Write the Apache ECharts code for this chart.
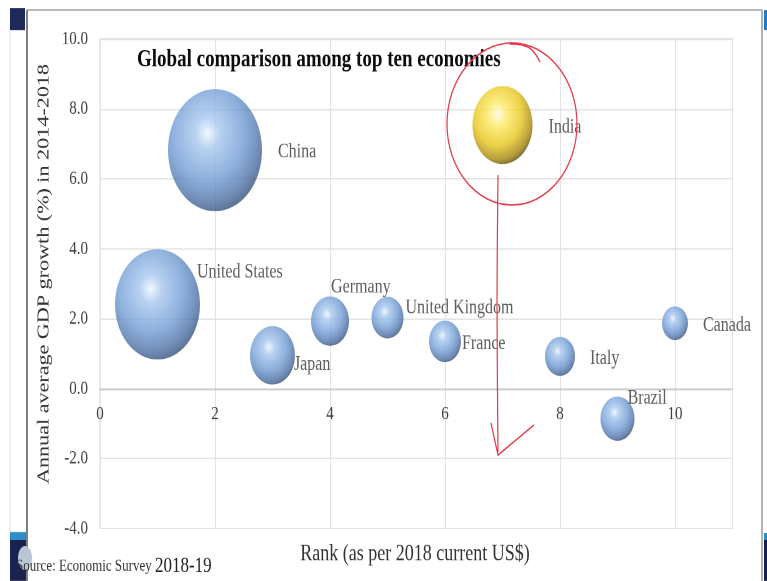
<!DOCTYPE html>
<html>
<head>
<meta charset="utf-8">
<script src="https://cdn.jsdelivr.net/npm/echarts@6/dist/echarts.min.js"></script>
<style>
  html, body { margin: 0; padding: 0; background: #fff; }
  #wrap { width: 767px; height: 581px; overflow: hidden; position: relative; background: #fff; }
  #chart { width: 767px; height: 447px; transform: scaleY(1.3); transform-origin: 0 0; }
</style>
</head>
<body>
<div id="wrap"><div id="chart"></div></div>
<script>
// ---- data ----
const countries = ['United States', 'China', 'Japan', 'Germany', 'United Kingdom', 'France', 'India', 'Italy', 'Brazil', 'Canada'];
const ranks = [1, 2, 3, 4, 5, 6, 7, 8, 9, 10];
const growth = [2.41, 6.82, 0.95, 1.93, 2.03, 1.35, 7.54, 0.92, -0.86, 1.87];
const gdpPPP = [20.4, 25.0, 5.7, 4.1, 2.9, 2.9, 10.2, 2.55, 3.3, 1.9];
const highlighted = ['India'];
const xTickValues = [0, 2, 4, 6, 8, 10];
const yMin = -4, yMax = 10, yStep = 2;
const xMin = 0, xMax = 11, xStep = 2;

const titleText = 'Global comparison among top ten economies';
const xTitle = 'Rank (as per 2018 current US$)';
const yTitle = 'Annual average GDP growth (%) in 2014-2018';
const sourceSmall = 'Source: Economic Survey ';
const sourceBig = '2018-19';

// ---- label placement (distance to the right, vertical offset) ----
const labelPlace = {
  'United States': [-3, -24.6],
  'China': [16, 1.5],
  'Japan': [-1, 7],
  'Germany': [-18, -26],
  'United Kingdom': [2, -7.3],
  'France': [1, 1.5],
  'India': [16, 1.5],
  'Italy': [15, 1.5],
  'Brazil': [-7, -15.8],
  'Canada': [15, 1.5]
};

const SERIF = '"Liberation Serif", "DejaVu Serif", serif';
const SY = 1.3; // the whole slide is stretched vertically
const uy = v => v / SY; // picture y -> unscaled y

const CH = 447;
const gridTop = uy(39), gridBottom = uy(581 - 528.3);
const plotH = CH - gridTop - gridBottom;
// move the x axis (line + labels) up to the y = 0 line
const zeroFromBottom = plotH * (0 - yMin) / (yMax - yMin);

function blueBall() {
  return new echarts.graphic.RadialGradient(0.42, 0.36, 0.66, [
    { offset: 0, color: '#eef6ff' },
    { offset: 0.2, color: '#a6c6ee' },
    { offset: 0.58, color: '#729dd5' },
    { offset: 0.86, color: '#4d70a4' },
    { offset: 1, color: '#34507a' }
  ]);
}
function goldBall() {
  return new echarts.graphic.RadialGradient(0.42, 0.36, 0.66, [
    { offset: 0, color: '#fffde2' },
    { offset: 0.25, color: '#fbe95e' },
    { offset: 0.6, color: '#e8c71e' },
    { offset: 0.88, color: '#a5850c' },
    { offset: 1, color: '#5f4c06' }
  ]);
}

const seriesData = countries.map((c, i) => {
  const lp = labelPlace[c];
  return {
    name: c,
    value: [ranks[i], growth[i], gdpPPP[i]],
    itemStyle: { color: highlighted.includes(c) ? goldBall() : blueBall() },
    label: { show: true, position: 'right', distance: lp[0], offset: [0, lp[1]] }
  };
});

const chart = echarts.init(document.getElementById('chart'), null, { renderer: 'canvas', devicePixelRatio: 2 });

chart.setOption({
  animation: false,
  backgroundColor: '#ffffff',
  grid: {
    left: 100, right: 34.5, top: gridTop, bottom: gridBottom,
    show: true, borderColor: '#d9d9d9', borderWidth: 1, backgroundColor: 'transparent'
  },
  xAxis: {
    type: 'value', min: xMin, max: xMax, interval: xStep,
    position: 'bottom',
    offset: -zeroFromBottom,
    axisLine: { show: true, onZero: false, lineStyle: { color: '#cccccc', width: 1.4 } },
    axisTick: { show: false },
    splitLine: { show: true, lineStyle: { color: '#e3e3e3', width: 1 } },
    axisLabel: {
      margin: 12, fontFamily: SERIF, fontSize: 15, color: '#404040',
      formatter: v => (xTickValues.includes(v) ? String(v) : '')
    }
  },
  yAxis: {
    type: 'value', min: yMin, max: yMax, interval: yStep,
    axisLine: { show: false },
    axisTick: { show: false },
    splitLine: { show: true, lineStyle: { color: '#e3e3e3', width: 1 } },
    axisLabel: {
      margin: 12, fontFamily: SERIF, fontSize: 15, color: '#404040',
      formatter: v => v.toFixed(1)
    }
  },
  series: [{
    type: 'scatter',
    symbol: 'circle',
    symbolSize: val => 18.8 * Math.sqrt(val[2]),
    data: seriesData,
    label: { fontFamily: SERIF, fontSize: 16, color: '#333', formatter: '{b}' },
    emphasis: { disabled: true },
    z: 3
  }],
  graphic: [
    // slide frame
    { type: 'line', shape: { x1: 27, y1: uy(10), x2: 762, y2: uy(10) }, style: { stroke: '#a0a0a0', lineWidth: 1.2 }, silent: true },
    { type: 'line', shape: { x1: 27, y1: uy(10), x2: 27, y2: CH }, style: { stroke: '#555', lineWidth: 1.5 }, silent: true },
    { type: 'line', shape: { x1: 762, y1: uy(10), x2: 762, y2: CH }, style: { stroke: '#8a8a8a', lineWidth: 1.3 }, silent: true },
    { type: 'line', shape: { x1: 10, y1: uy(30), x2: 10, y2: uy(532) }, style: { stroke: '#e2e2e2', lineWidth: 1 }, silent: true },
    { type: 'rect', shape: { x: 10, y: uy(8), width: 15, height: uy(22) }, style: { fill: '#1f2a5c' }, silent: true },
    { type: 'rect', shape: { x: 764, y: uy(10), width: 3, height: uy(20) }, style: { fill: '#1e7bc4' }, silent: true },
    { type: 'rect', shape: { x: 10, y: uy(532), width: 16, height: uy(8) }, style: { fill: '#2a8fc8' }, silent: true },
    { type: 'rect', shape: { x: 10, y: uy(540), width: 16, height: uy(41) }, style: { fill: '#1a2350' }, silent: true },
    { type: 'ellipse', shape: { cx: 25, cy: uy(558), rx: 7, ry: uy(12) }, style: { fill: '#b9c6d6' }, silent: true },
    { type: 'rect', shape: { x: 764, y: uy(533), width: 3, height: uy(7) }, style: { fill: '#2a8fc8' }, silent: true },
    { type: 'rect', shape: { x: 764, y: uy(540), width: 3, height: uy(41) }, style: { fill: '#1a2350' }, silent: true },
    // texts
    { type: 'text', x: 137, y: uy(60), z: 10, style: { text: titleText, fontFamily: SERIF, fontSize: 19, fontWeight: 'bold', fill: '#0d0d0d', textAlign: 'left', textVerticalAlign: 'middle' } },
    { type: 'text', x: 415, y: uy(554), style: { text: xTitle, fontFamily: SERIF, fontSize: 18, fill: '#333', textAlign: 'center', textVerticalAlign: 'middle' } },
    { type: 'text', x: 44, y: uy(274), rotation: Math.PI / 2, style: { text: yTitle, fontFamily: SERIF, fontSize: 17, fill: '#333', textAlign: 'center', textVerticalAlign: 'middle' } },
    { type: 'text', x: 16, y: uy(566), z: 10, style: {
        text: '{a|' + sourceSmall + '}{b|' + sourceBig + '}',
        textVerticalAlign: 'middle',
        rich: {
          a: { fontFamily: SERIF, fontSize: 13, fill: '#333', color: '#333' },
          b: { fontFamily: SERIF, fontSize: 17, fill: '#222', color: '#222' }
        }
      } },
    // hand-drawn red annotation
    { type: 'ellipse', shape: { cx: 512, cy: uy(124), rx: 65, ry: uy(81) }, style: { fill: 'none', stroke: '#e23b4e', lineWidth: 1.2 }, z: 20, silent: true },
    { type: 'polyline', shape: { points: [[540, uy(62)], [532, uy(50)], [522, uy(45)], [510, uy(44)]], smooth: 0.4 }, style: { stroke: '#e23b4e', lineWidth: 1.2, fill: 'none' }, z: 20, silent: true },
    { type: 'polyline', shape: { points: [[498, uy(175)], [497, uy(300)], [498, uy(452)]], smooth: 0.3 }, style: { stroke: '#e23b4e', lineWidth: 1.2, fill: 'none' }, z: 20, silent: true },
    { type: 'polyline', shape: { points: [[491, uy(423)], [498, uy(455)], [534, uy(425)]] }, style: { stroke: '#e23b4e', lineWidth: 1.2, fill: 'none' }, z: 20, silent: true }
  ]
});
</script>
</body>
</html>
